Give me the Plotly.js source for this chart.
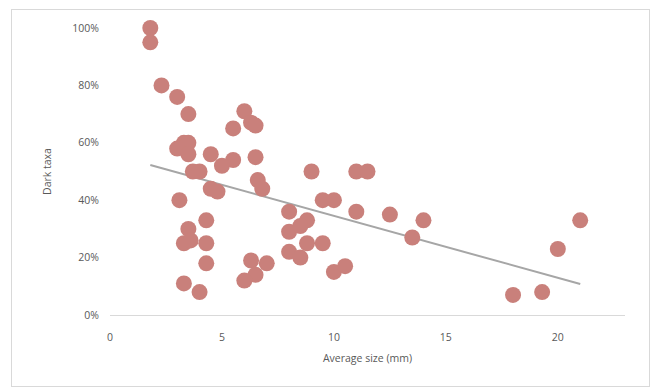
<!DOCTYPE html>
<html><head><meta charset="utf-8">
<script src="https://cdn.plot.ly/plotly-3.0.1.min.js"></script>
<style>
html,body{margin:0;padding:0;background:#fff;}
#wrap{position:relative;width:658px;height:388px;}
#chart{width:658px;height:388px;}
#frame{position:absolute;left:11px;top:9px;width:637px;height:376px;border:1px solid #d9d9d9;pointer-events:none;}
</style></head>
<body>
<div id="wrap"><div id="chart"></div><div id="frame"></div></div>
<script>
// Average size (mm)
const sizeMm = [1.8,1.8,2.3,3.0,3.5,6.0,6.3,6.5,5.5,3.3,3.5,3.0,3.5,4.5,6.5,5.5,5.0,3.7,4.0,9.0,11.0,11.5,6.6,6.8,4.5,4.8,3.1,9.5,10.0,8.0,11.0,12.5,14.0,4.3,8.8,21.0,3.5,3.3,3.6,4.3,4.3,3.3,4.0,8.0,8.5,8.8,9.5,8.0,8.5,13.5,10.0,10.5,6.3,7.0,6.5,6.0,20.0,19.3,18.0];
// Dark taxa share (fraction)
const darkTaxa = [1.00,0.95,0.80,0.76,0.70,0.71,0.67,0.66,0.65,0.60,0.60,0.58,0.56,0.56,0.55,0.54,0.52,0.50,0.50,0.50,0.50,0.50,0.47,0.44,0.44,0.43,0.40,0.40,0.40,0.36,0.36,0.35,0.33,0.33,0.33,0.33,0.30,0.25,0.26,0.25,0.18,0.11,0.08,0.29,0.31,0.25,0.25,0.22,0.20,0.27,0.15,0.17,0.19,0.18,0.14,0.12,0.23,0.08,0.07];
const xTicks = [0,5,10,15,20];
const yTicks = [0,0.2,0.4,0.6,0.8,1.0];
const yTickText = ['0%','20%','40%','60%','80%','100%'];

// linear least-squares trendline from the data
const n = sizeMm.length;
const mx = sizeMm.reduce((a,b)=>a+b,0)/n;
const my = darkTaxa.reduce((a,b)=>a+b,0)/n;
let sxy=0, sxx=0;
for(let i=0;i<n;i++){sxy+=(sizeMm[i]-mx)*(darkTaxa[i]-my);sxx+=(sizeMm[i]-mx)**2;}
const slope = sxy/sxx, icpt = my - slope*mx;
const xMin = Math.min(...sizeMm), xMax = Math.max(...sizeMm);
const trendX = [xMin, xMax];
const trendY = trendX.map(v=>icpt+slope*v);

const font = {family:'Open Sans, Liberation Sans, sans-serif', size:10.5, color:'#595959'};
Plotly.newPlot('chart',[
 {x:trendX,y:trendY,mode:'lines',line:{color:'#a6a6a6',width:2},hoverinfo:'skip',showlegend:false,cliponaxis:false},
 {x:sizeMm,y:darkTaxa,mode:'markers',marker:{size:16,color:'#c9807b',line:{width:0}},showlegend:false,cliponaxis:false}
],{
 width:658,height:388,
 margin:{l:110,r:33,t:28,b:73},
 paper_bgcolor:'#fff',plot_bgcolor:'#fff',
 font:font,
 xaxis:{range:[0,23],tickvals:xTicks,showgrid:false,zeroline:false,showline:true,linecolor:'#d9d9d9',linewidth:1,
   ticks:'',ticklabelstandoff:12,title:{text:'Average size (mm)',font:font,standoff:12}},
 yaxis:{range:[0,1],tickvals:yTicks,ticktext:yTickText,showgrid:false,zeroline:false,showline:false,
   ticks:'',ticklabelstandoff:10,title:{text:'Dark taxa',font:font,standoff:18}}
},{displayModeBar:false,staticPlot:true});
</script>
</body></html>
